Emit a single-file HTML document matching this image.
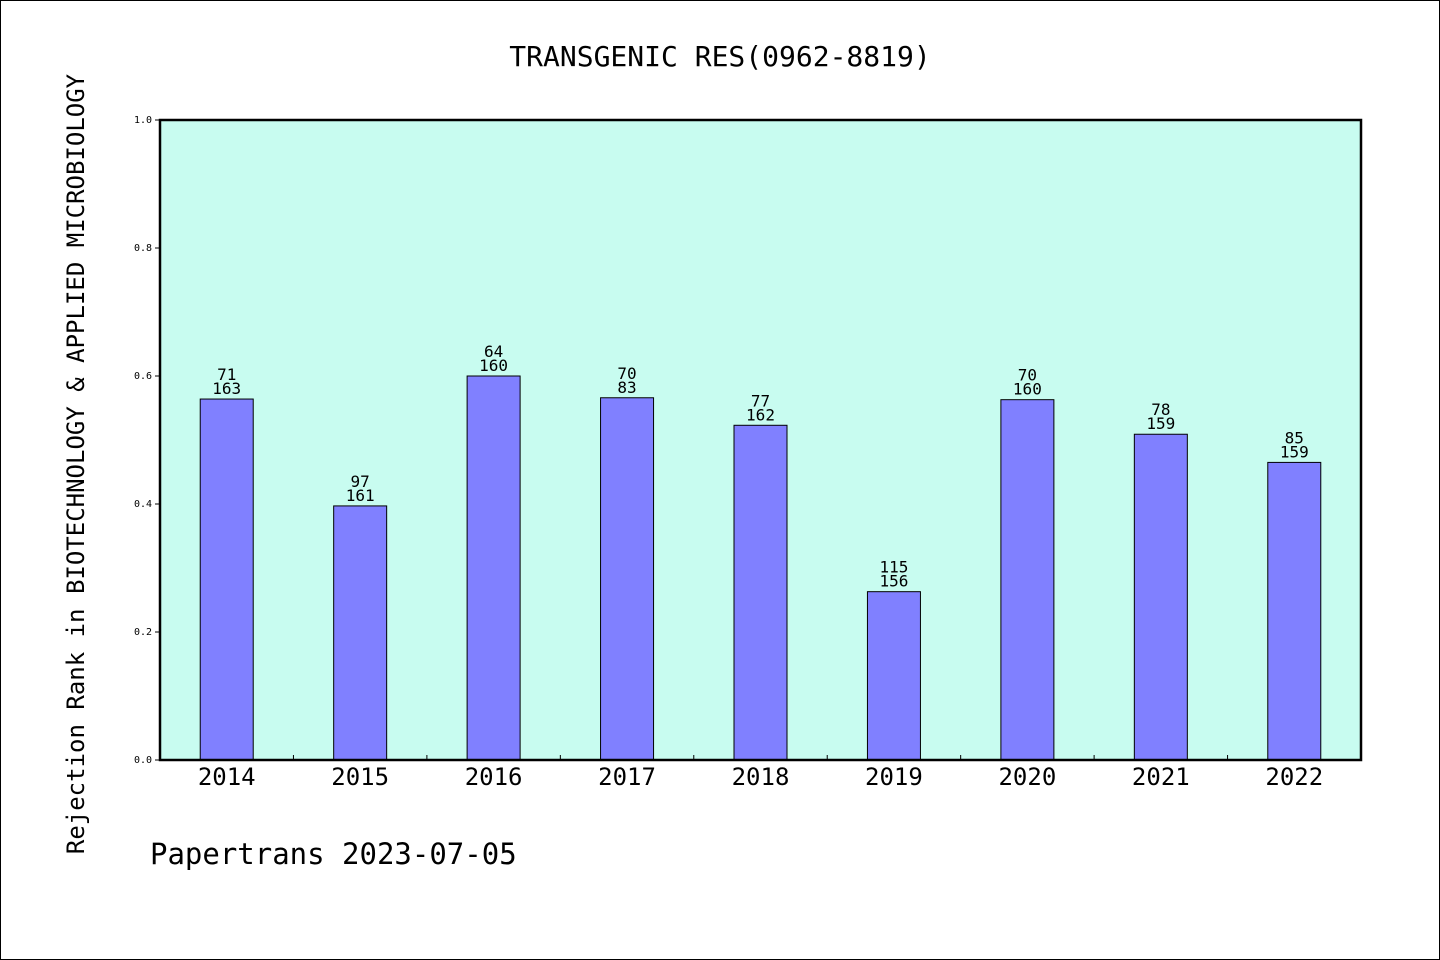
<!DOCTYPE html>
<html><head><meta charset="utf-8"><style>
html,body{margin:0;padding:0;background:#fff}
svg{display:block}
text{font-family:"DejaVu Sans Mono","Liberation Mono","WenQuanYi Zen Hei",monospace;fill:#000}
</style></head><body>
<svg id="chart" width="1440" height="960" viewBox="0 0 1440 960">
<rect x="0.5" y="0.5" width="1439" height="959" fill="#fff" stroke="#000"/>
<text x="720" y="66" font-size="28" text-anchor="middle">TRANSGENIC RES(0962-8819)</text>
<rect x="160" y="120" width="1201" height="640" fill="#c8fcf0"/>
<g id="bars"></g>
<rect x="160" y="120" width="1201" height="640" fill="none" stroke="#000" stroke-width="2.5"/>
<g id="axes"></g>
<text transform="translate(84,464) rotate(-90)" font-size="24" text-anchor="middle">Rejection Rank in BIOTECHNOLOGY &amp; APPLIED MICROBIOLOGY</text>
<text x="150" y="864" font-size="29">Papertrans 2023-07-05</text>
</svg>
<script>
const categories = ["2014","2015","2016","2017","2018","2019","2020","2021","2022"];
const values = [0.564, 0.397, 0.600, 0.566, 0.523, 0.263, 0.563, 0.509, 0.465];
const ranks = ["71","97","64","70","77","115","70","78","85"];
const totals = ["163","161","160","83","162","156","160","159","159"];
const yTicks = [0.0, 0.2, 0.4, 0.6, 0.8, 1.0];
const yTickLabels = ["0.0","0.2","0.4","0.6","0.8","1.0"];

const NS = "http://www.w3.org/2000/svg";
const X0 = 160, X1 = 1361, Y0 = 760, Y1 = 120;
const slot = (X1 - X0) / categories.length;
function xPos(i){ return X0 + slot * (i + 0.5); }
function yPos(v){ return Y0 - (Y0 - Y1) * v; }
function mk(tag, attrs, parent){ const e = document.createElementNS(NS, tag); for (const k in attrs) e.setAttribute(k, attrs[k]); parent.appendChild(e); return e; }

const bars = document.getElementById("bars");
const axes = document.getElementById("axes");
const bw = 53;
categories.forEach((c, i) => {
  const cx = xPos(i), top = yPos(values[i]);
  const r = mk("rect", {x: cx - bw/2, y: top, width: bw, height: Y0 - top, fill: "#8080ff", stroke: "#000", "stroke-width": 1}, bars);
  
  
  const t1 = mk("text", {x: cx, y: top - 19, "font-size": 16, "text-anchor": "middle"}, bars);
  t1.textContent = ranks[i];
  
  
  const t2 = mk("text", {x: cx, y: top - 5, "font-size": 16, "text-anchor": "middle"}, bars);
  t2.textContent = totals[i];
  
  
  const xl = mk("text", {x: cx, y: 785, "font-size": 24, "text-anchor": "middle"}, axes);
  xl.textContent = c;
  
  
  if (i > 0) {
    const tk = mk("line", {x1: X0 + slot*i, x2: X0 + slot*i, y1: Y0, y2: Y0 - 5, stroke: "#000"}, axes);
    
    
  }
});
yTicks.forEach((v, i) => {
  const y = yPos(v);
  const tk = mk("line", {x1: X0 - 5, x2: X0, y1: y, y2: y, stroke: "#000"}, axes);
  
  
  const tl = mk("text", {x: X0 - 8, y: y + 3, "font-size": 10, "text-anchor": "end"}, axes);
  tl.textContent = yTickLabels[i];
  
  
});
</script>
</body></html>
